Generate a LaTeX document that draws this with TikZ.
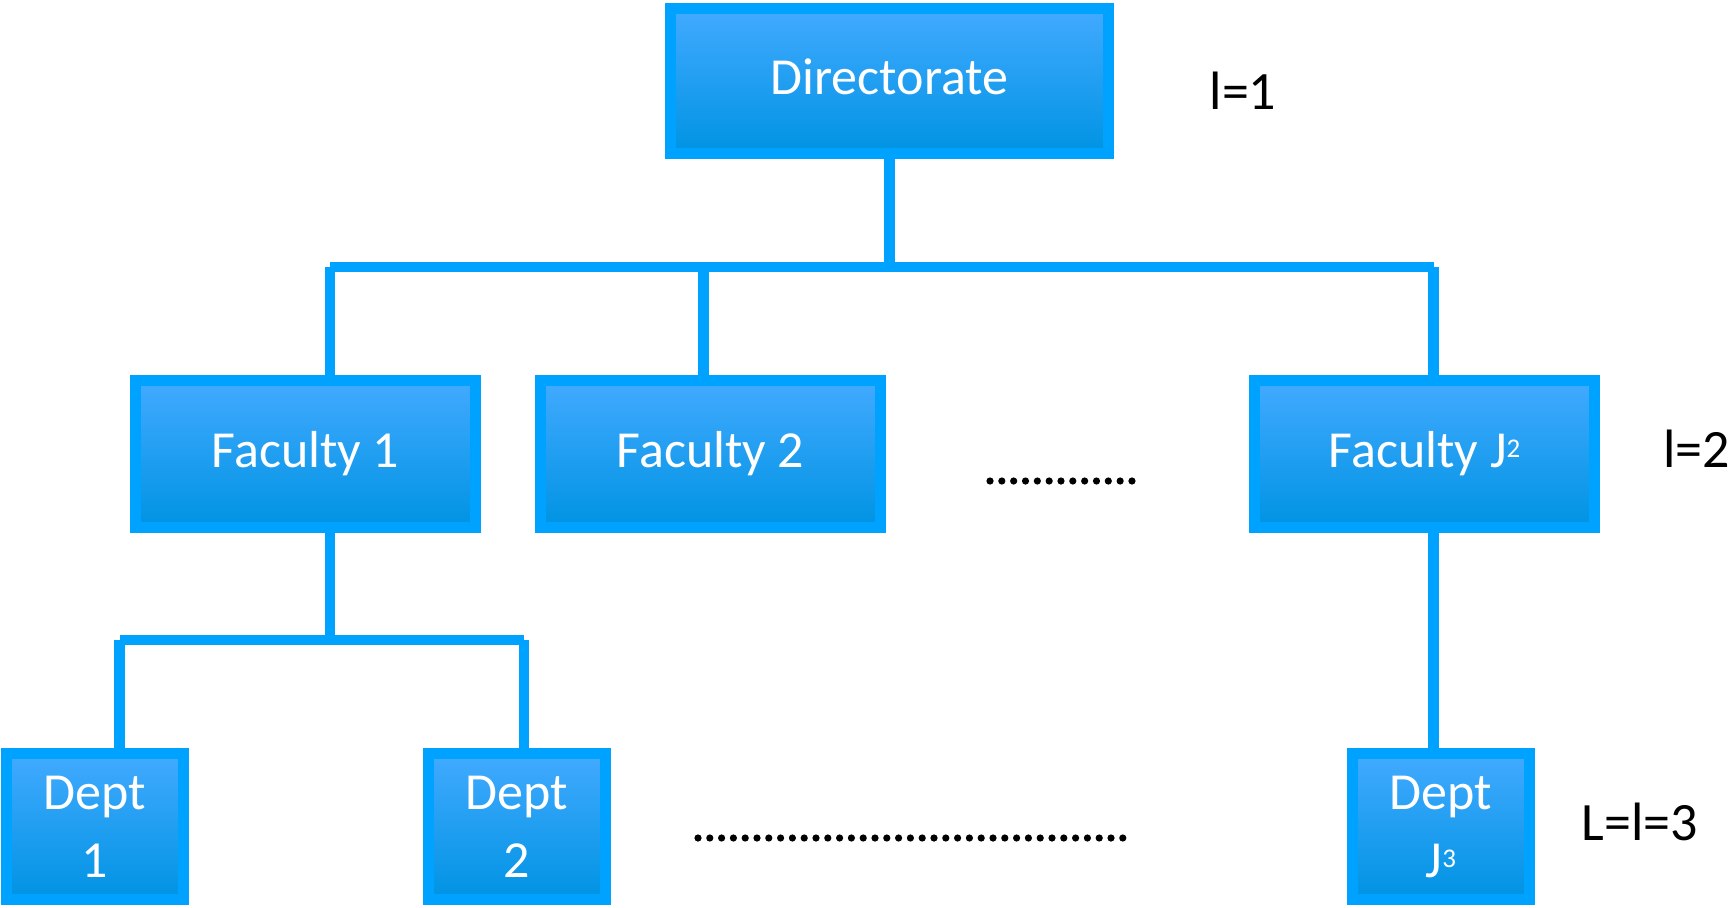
\documentclass[tikz,border=0pt]{standalone}
\usepackage{fontspec}
\setmainfont{Carlito}
\definecolor{boxedge}{RGB}{0,162,255}
\definecolor{boxtop}{RGB}{66,170,255}
\definecolor{boxmid}{RGB}{0,160,254}
\definecolor{boxbot}{RGB}{0,147,227}
\newcommand{\raisedidx}[1]{\raisebox{10pt}{\fontsize{27}{27}\selectfont #1}}
\tikzset{
  unit/.style={draw=boxedge, line width=11pt, inner sep=0pt,
    top color=boxtop, middle color=boxmid, bottom color=boxbot,
    text=white, font=\fontsize{52}{68}\selectfont, align=center},
  topbox/.style={unit, minimum width=438pt, minimum height=145pt, text depth=9pt},
  facbox/.style={unit, minimum width=340pt, minimum height=147pt},
  depbox/.style={unit, minimum width=177pt, minimum height=146pt},
  link/.style={draw=boxedge, line width=10.5pt, line cap=butt},
  level/.style={font=\fontsize{54}{60}\selectfont, text=black, anchor=base, inner sep=0pt},
  dot/.style={fill=black, draw=none}
}
\begin{document}
\begin{tikzpicture}[x=1pt,y=-1pt]
\useasboundingbox (0,0) rectangle (1731,907);

% junction points of the tree
\coordinate (j1) at (330,267);
\coordinate (j2) at (703.5,267);
\coordinate (j3) at (1433.5,267);
\coordinate (k1) at (119.5,640);
\coordinate (k0) at (330,640);
\coordinate (k2) at (524,640);

% connectors
\draw[link] (889.5,159) -- (889.5,267);
\draw[link] (j1) -- (j3);
\draw[link] (j1) -- (330,380);
\draw[link] (j2) -- (703.5,380);
\draw[link] (j3) -- (1433.5,380);
\draw[link] (330,527) -- (k0);
\draw[link] (k1) -- (k2);
\draw[link] (k1) -- (119.5,753);
\draw[link] (k2) -- (524,753);
\draw[link] (1433.5,527) -- (1433.5,753);

% boxes
\node[topbox] (dir) at (889.5,81) {Directorate};
\node[facbox] (f1) at (305.5,453.5) {Faculty 1};
\node[facbox] (f2) at (710.5,453.5) {Faculty 2};
\node[facbox] (fJ) at (1424.5,453.5) {Faculty J\raisedidx{2}};
\node[depbox] (d1) at (95,826.5) {Dept\\1};
\node[depbox] (d2) at (516.5,826.5) {Dept\\2};
\node[depbox] (dJ) at (1441,826.5) {Dept\\J\raisedidx{3}};

% level labels
\node[level] (l1) at (1243,109) {l=1};
\node[level] (l2) at (1696.5,467) {l=2};
\node[level] (l3) at (1640,840) {L=l=3};

% ellipses between boxes
\foreach \i in {0,...,12} \fill[dot] (990+11.83*\i,481) circle (3.6pt);
\foreach \i in {0,...,36} \fill[dot] (698+11.8*\i,838) circle (3.6pt);
\end{tikzpicture}
\end{document}
